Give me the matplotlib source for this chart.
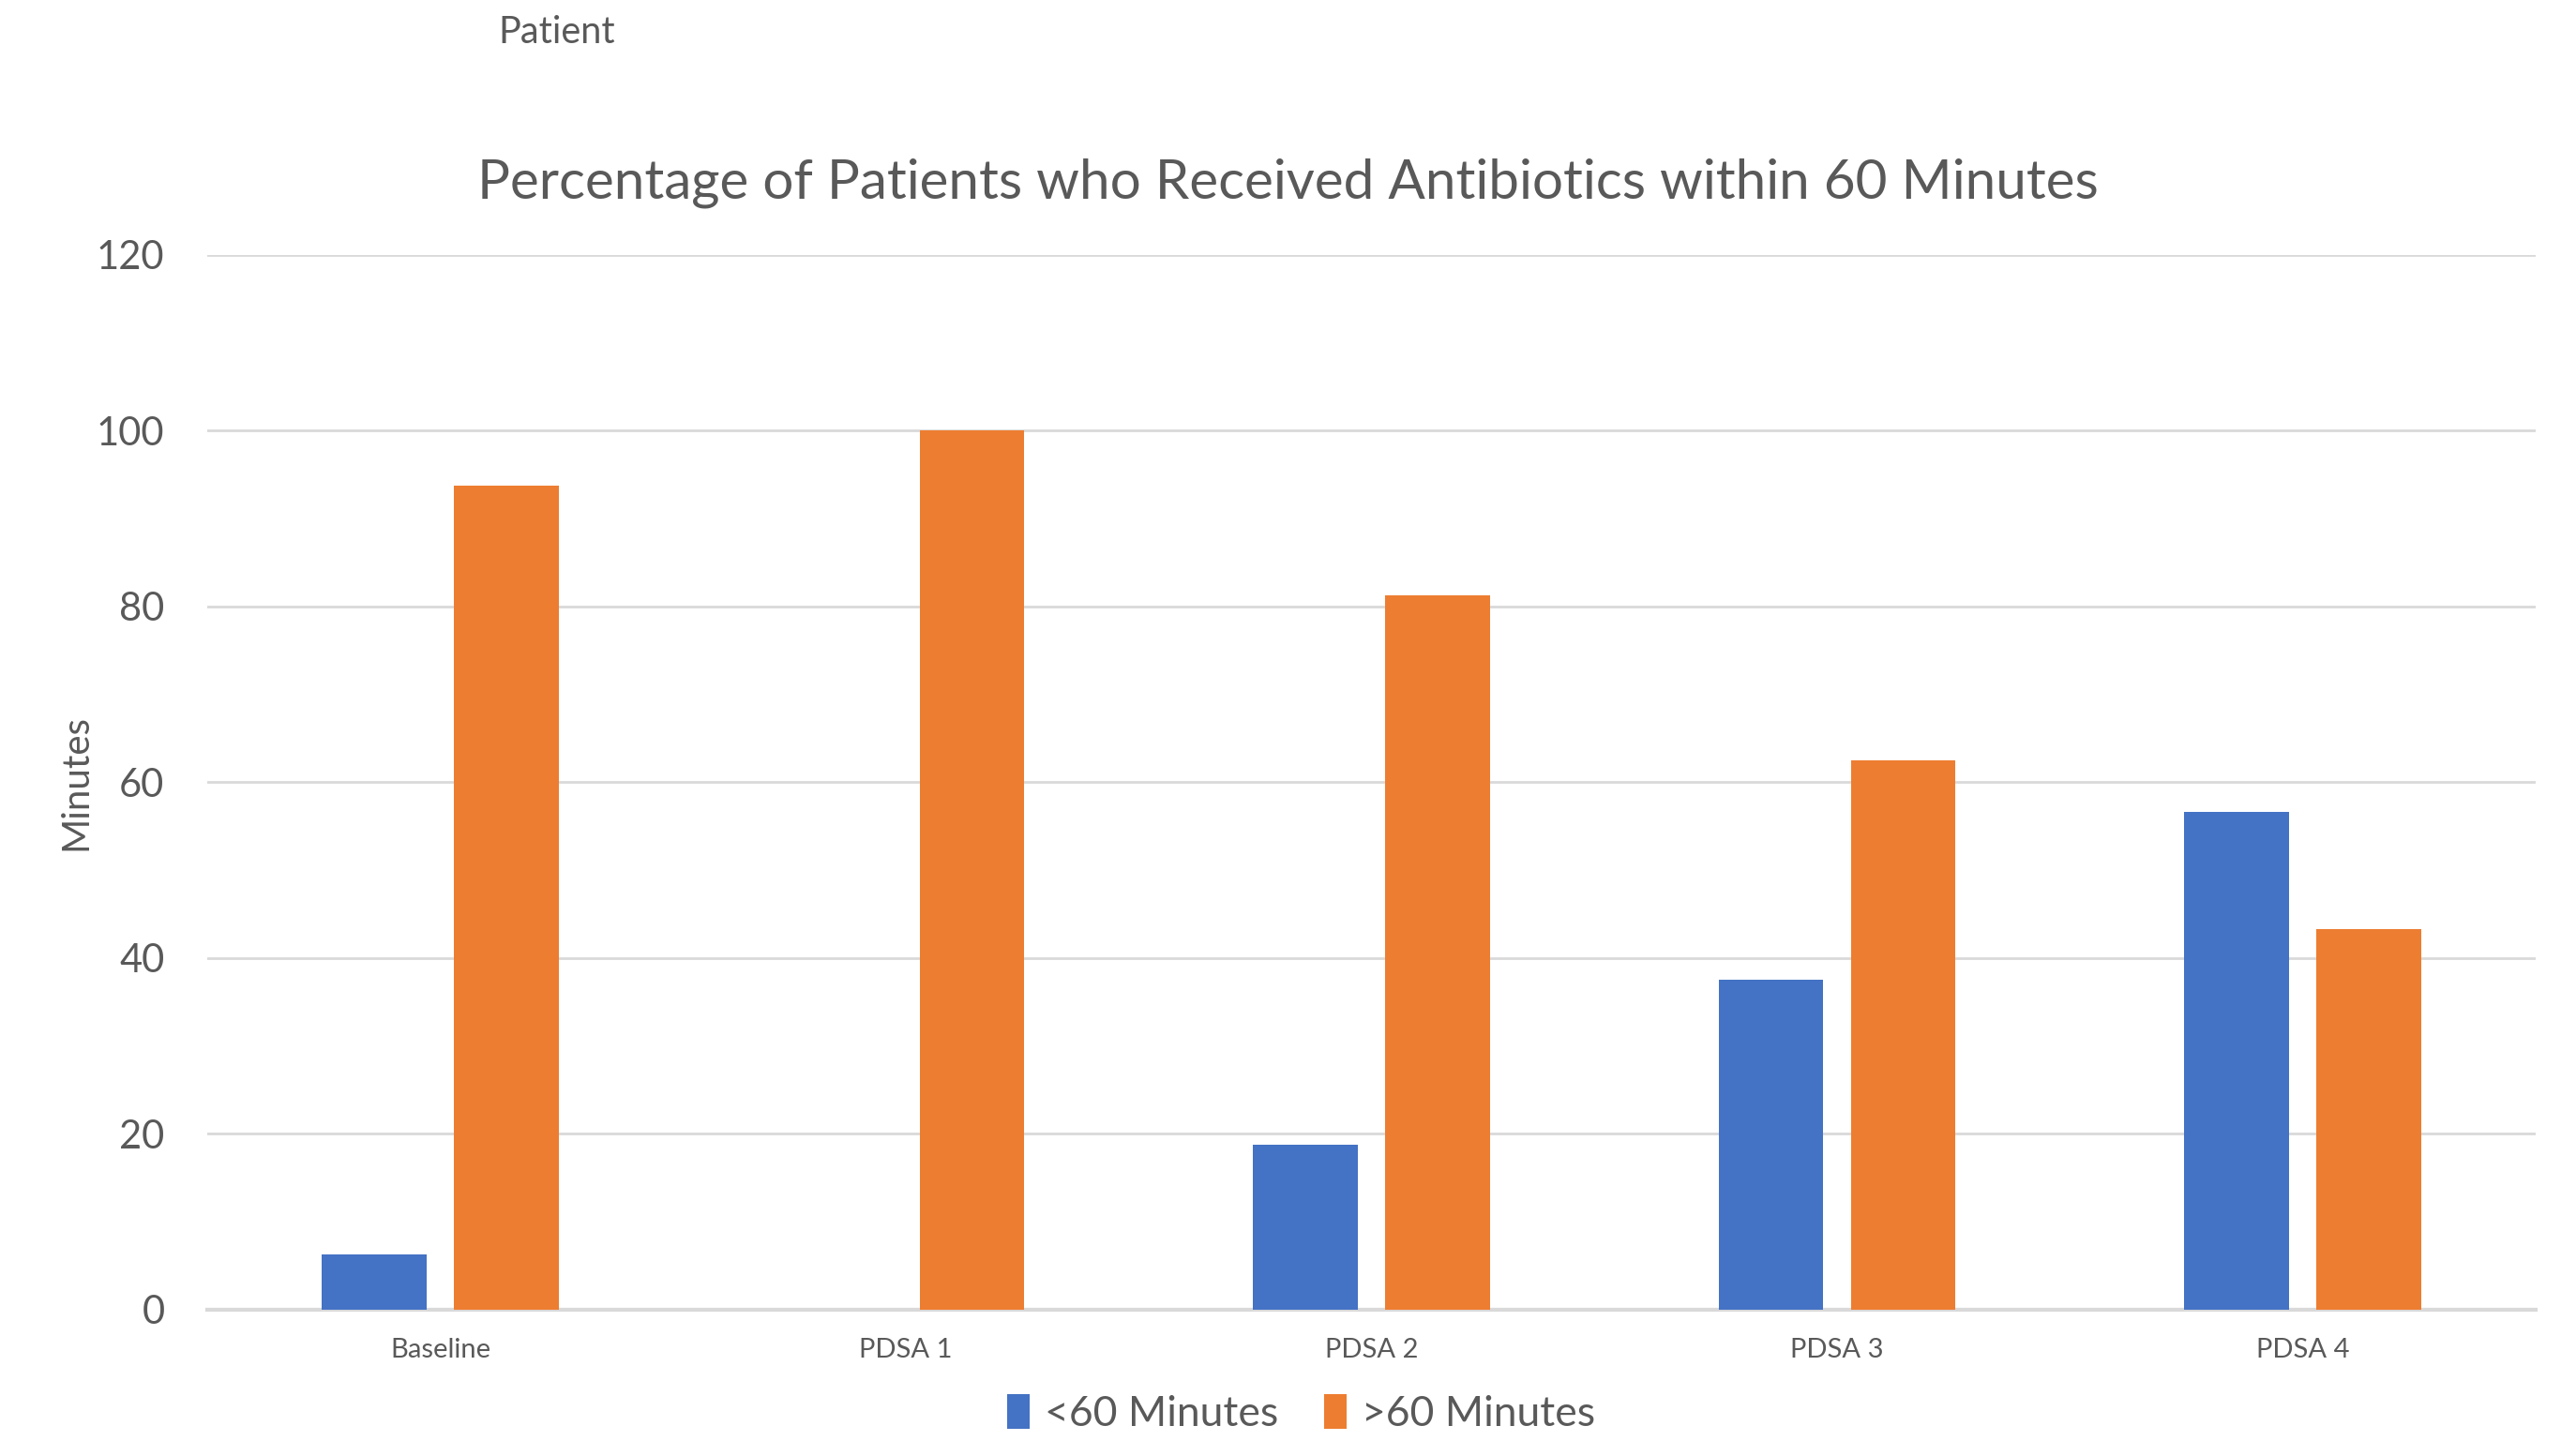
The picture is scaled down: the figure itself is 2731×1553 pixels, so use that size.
import matplotlib.pyplot as plt
import numpy as np

# data
categories = ['Baseline', 'PDSA 1', 'PDSA 2', 'PDSA 3', 'PDSA 4']
under_60 = [6.25, 0, 18.75, 37.5, 56.67]
over_60 = [93.75, 100, 81.25, 62.5, 43.33]
series_names = ['<60 Minutes', '>60 Minutes']
yticks = [0, 20, 40, 60, 80, 100, 120]

blue = '#4472C4'
orange = '#ED7D31'
grey_txt = '#595959'
grid_c = '#D9D9D9'

plt.rcParams['font.family'] = ['Lato', 'DejaVu Sans']

fig = plt.figure(figsize=(27.31, 15.53), dpi=100)
ax = fig.add_axes([0.081, 0.1005, 0.909, 0.7245])

x = np.arange(len(categories))
w = 0.225
off = 0.142
ax.bar(x - off, under_60, width=w, color=blue, label=series_names[0], zorder=3)
ax.bar(x + off, over_60, width=w, color=orange, label=series_names[1], zorder=3)

ax.set_xlim(-0.5, len(categories) - 0.5)
ax.set_ylim(0, 120)
ax.set_yticks(yticks)
ax.yaxis.grid(True, color=grid_c, linewidth=2, zorder=0)
ax.set_axisbelow(True)
for s in ['top', 'right', 'left']:
    ax.spines[s].set_visible(False)
ax.spines['bottom'].set_color(grid_c)
ax.spines['bottom'].set_linewidth(3)
ax.tick_params(axis='y', length=0, labelsize=30, labelcolor=grey_txt, pad=33)
ax.tick_params(axis='x', length=0, labelsize=21, labelcolor=grey_txt, pad=22)
ax.set_xticks(x)
ax.set_xticklabels(categories)

ax.set_ylabel('Minutes', fontsize=29, color=grey_txt)
ax.yaxis.set_label_coords(-0.049, 0.5)

fig.text(0.503, 0.874, 'Percentage of Patients who Received Antibiotics within 60 Minutes',
         ha='center', va='center', fontsize=42, color=grey_txt)
fig.text(0.1945, 0.978, 'Patient', ha='left', va='center', fontsize=28.5, color=grey_txt)

leg = fig.legend(loc='center', bbox_to_anchor=(0.508, 0.029), ncol=2, frameon=False,
                 fontsize=32, handlelength=0.55, handleheight=0.9, handletextpad=0.35,
                 columnspacing=1.1)
for t in leg.get_texts():
    t.set_color(grey_txt)

fig.savefig('out.png', dpi=100)
